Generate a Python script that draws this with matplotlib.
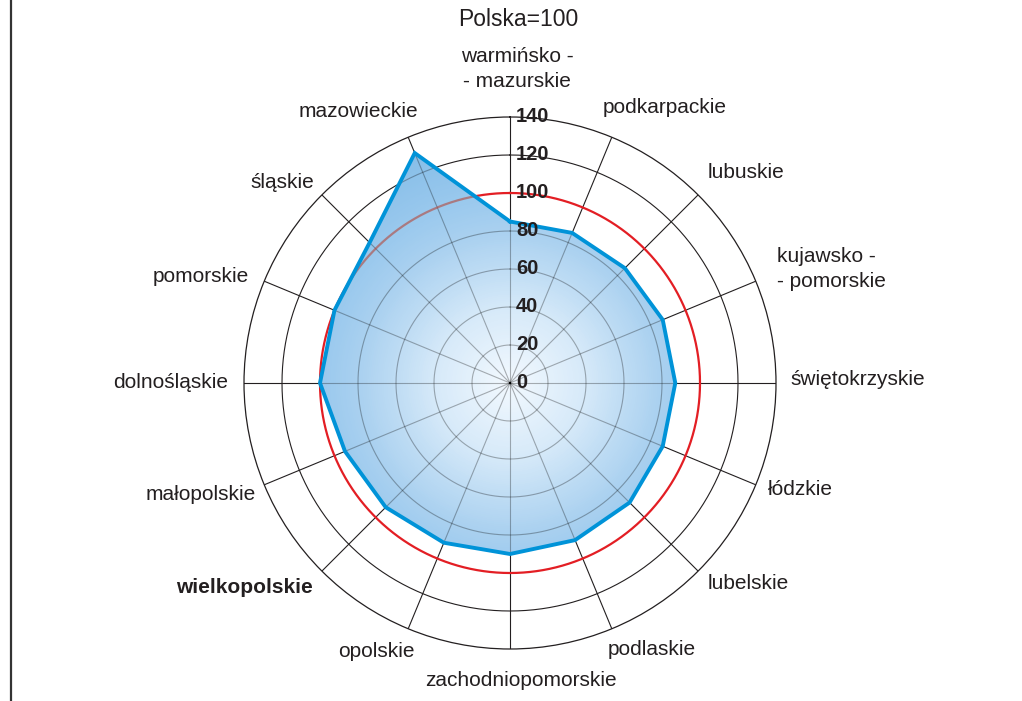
import numpy as np
import matplotlib
matplotlib.use("Agg")
import matplotlib.pyplot as plt
from matplotlib.colors import LinearSegmentedColormap
from matplotlib.lines import Line2D

# ---- data ----
categories = ["warmińsko -\n- mazurskie", "podkarpackie", "lubuskie",
              "kujawsko -\n- pomorskie", "świętokrzyskie", "łódzkie",
              "lubelskie", "podlaskie", "zachodniopomorskie", "opolskie",
              "wielkopolskie", "małopolskie", "dolnośląskie", "pomorskie",
              "śląskie", "mazowieckie"]
values = [85, 85.5, 85.5, 87, 87, 87, 89, 89.5, 90, 91, 92.5, 94, 100, 100, 104.5, 131]
ring_ticks = [0, 20, 40, 60, 80, 100, 120, 140]
reference_level = 100
subtitle = "Polska=100"
highlight = "wielkopolskie"

plt.rcParams['font.family'] = ['Liberation Sans', 'DejaVu Sans']
TXT = '#231f20'

W, H = 1022, 701
fig = plt.figure(figsize=(W / 100, H / 100), dpi=100)
cx, cy, rad = 510, 383, 266
ax = fig.add_axes([(cx - rad) / W, (H - cy - rad) / H, 2 * rad / W, 2 * rad / H],
                  projection='polar')
ax.set_theta_zero_location('N')
ax.set_theta_direction(-1)
ax.set_ylim(0, 140)
ax.set_xticks([])
ax.set_yticks([])
ax.grid(False)
ax.spines['polar'].set_color(TXT)
ax.spines['polar'].set_linewidth(0.9)

n = len(categories)
theta = np.arange(n) * 2 * np.pi / n
tfine = np.linspace(0, 2 * np.pi, 721)

# grid (black)
grid_lines = []
for r in ring_ticks[1:-1]:
    if r == reference_level:
        continue
    grid_lines.append(ax.plot(tfine, np.full_like(tfine, r), color=TXT, lw=0.8, zorder=1)[0])
for th in theta:
    grid_lines.append(ax.plot([th, th], [0, 140], color=TXT, lw=0.8, zorder=1)[0])
ax.plot(tfine, np.full_like(tfine, reference_level), color='#e31e24', lw=1.6, zorder=1.5)

# polygon
tc = np.append(theta, theta[0])
vc = np.append(values, values[0])
poly = ax.fill(tc, vc, facecolor='none', edgecolor='none', zorder=2)[0]

cmap = LinearSegmentedColormap.from_list(
    'blu', [(0.0, (0.95, 0.975, 0.997)), (0.3, (0.84, 0.915, 0.975)),
            (0.6, (0.67, 0.82, 0.94)), (0.77, (0.60, 0.785, 0.93)),
            (1.0, (0.53, 0.745, 0.91))])
T, R = np.meshgrid(np.linspace(0, 2 * np.pi, 361), np.linspace(0, 140, 141))
mesh = ax.pcolormesh(T, R, R, cmap=cmap, vmin=0, vmax=130, shading='auto', zorder=2)
mesh.set_clip_path(poly)

# grid seen through fill
for ln in grid_lines:
    g = ax.plot(ln.get_xdata(), ln.get_ydata(), color='black', alpha=0.3, lw=0.8, zorder=3)[0]
    g.set_clip_path(poly)
rr = ax.plot(tfine, np.full_like(tfine, reference_level), color='#b5473a', alpha=0.6, lw=1.6, zorder=3)[0]
rr.set_clip_path(poly)

ax.plot(tc, vc, color='#0093d8', lw=2.8, zorder=4, solid_joinstyle='miter')

# ring tick labels
for v in ring_ticks:
    ax.annotate(str(v), xy=(0, v), xytext=(6, 0), textcoords='offset pixels',
                ha='left', va='center', fontsize=14.5, fontweight='bold', color=TXT,
                zorder=6, annotation_clip=False)

# category labels (offsets in pixels from spoke end)
offs = [(7, 48, 'center'), (53, 30, 'center'), (48, 22, 'center'), (21, 12, 'left'),
        (14, 3, 'left'), (45, -5, 'center'), (50, -12, 'center'), (40, -21, 'center'),
        (11, -32, 'center'), (-32, -23, 'center'), (-77, -16, 'center'), (-64, -10, 'center'),
        (-16, 1, 'right'), (-63, 5, 'center'), (-40, 12, 'center'), (-50, 26, 'center')]
for th, cat, (dx, dy, ha) in zip(theta, categories, offs):
    ax.annotate(cat, xy=(th, 140), xytext=(dx, dy), textcoords='offset pixels',
                ha=ha, va='center', multialignment=ha,
                fontsize=15, color=TXT, linespacing=1.38,
                fontweight='bold' if cat == highlight else 'normal',
                annotation_clip=False)

fig.text(518 / W, 1 - 20 / H, subtitle, ha='center', va='center', fontsize=16.5, color=TXT)
fig.add_artist(Line2D([10.5 / W, 10.5 / W], [0, 1], transform=fig.transFigure,
                      color='#333333', lw=1.6))

fig.savefig('out.png', dpi=100)
